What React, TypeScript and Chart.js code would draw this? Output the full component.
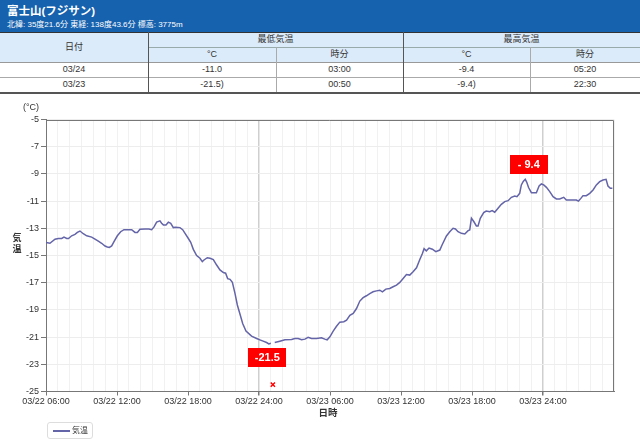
import React, { useEffect, useRef } from "react";
import { Chart, registerables } from "chart.js";
Chart.register(...registerables);

const FONT = '"Liberation Sans", "Noto Sans CJK JP", sans-serif';

// hours since 03/22 00:00
const times = [
  6.0, 6.33, 6.76, 7.04, 7.33, 7.52, 7.75, 7.9, 8.17, 8.45, 8.65, 8.87, 9.15, 9.44, 9.86, 10.14, 10.42, 10.7, 10.99, 11.18,
  11.35, 11.55, 11.77, 12.03, 12.31, 12.59, 12.96, 13.24, 13.52, 13.72, 13.94, 14.37, 14.7, 14.93, 15.13, 15.35, 15.63, 15.77, 15.92, 16.14,
  16.34, 16.54, 16.76, 16.96, 17.32, 17.55, 17.75, 18.03, 18.23, 18.45, 18.73, 19.01, 19.21, 19.35, 19.63, 19.86, 20.14, 20.42, 20.7, 20.99,
  21.18, 21.35, 21.55, 21.75, 21.97, 22.17, 22.39, 22.62, 22.9, 23.37, 23.8, 24.07, 24.35, 24.64, 24.83, 25.0, 25.17, 25.33, 25.76, 26.19,
  26.75, 27.03, 27.31, 27.6, 27.88, 28.15, 28.44, 28.86, 29.28, 29.56, 29.76, 29.99, 30.27, 30.55, 30.83, 31.17, 31.4, 31.68, 31.96, 32.24,
  32.52, 32.8, 33.08, 33.36, 33.64, 33.93, 34.21, 34.43, 34.72, 35.05, 35.33, 35.62, 35.9, 36.18, 36.46, 36.74, 37.02, 37.31, 37.59, 37.81,
  37.95, 38.14, 38.37, 38.65, 38.94, 39.28, 39.47, 39.84, 40.12, 40.4, 40.6, 40.82, 41.1, 41.39, 41.67, 41.81, 41.95, 42.15, 42.37, 42.51,
  42.7, 42.99, 43.2, 43.5, 43.7, 43.92, 44.2, 44.48, 44.77, 45.05, 45.33, 45.61, 45.8, 46.03, 46.17, 46.33, 46.5, 46.62, 46.78, 47.02,
  47.44, 47.67, 47.86, 48.06, 48.29, 48.57, 48.85, 49.13, 49.41, 49.75, 49.97, 50.4, 50.82, 51.0, 51.2, 51.38, 51.66, 51.95, 52.23, 52.51,
  52.79, 53.07, 53.33, 53.49, 53.69, 53.86,
];
const temps: (number | null)[] = [
  -14.05, -14.1, -13.8, -13.75, -13.75, -13.65, -13.75, -13.75, -13.55, -13.45, -13.3, -13.2, -13.4, -13.55, -13.65, -13.8, -13.95, -14.1, -14.3, -14.37,
  -14.4, -14.3, -13.95, -13.55, -13.25, -13.1, -13.1, -13.1, -13.3, -13.3, -13.07, -13.05, -13.05, -13.1, -12.9, -12.55, -12.45, -12.63, -12.75, -12.75,
  -12.55, -12.63, -12.95, -12.93, -12.95, -13.1, -13.37, -13.75, -14.03, -14.55, -15.0, -15.2, -15.45, -15.33, -15.16, -15.2, -15.3, -15.7, -16.06, -16.25,
  -16.3, -16.7, -16.75, -16.97, -17.78, -18.64, -19.3, -20.0, -20.55, -20.93, -21.1, -21.2, -21.3, -21.4, -21.5, -21.45, null, -21.4, -21.3, -21.2,
  -21.17, -21.1, -21.1, -21.2, -21.15, -21.02, -21.1, -21.1, -21.05, -21.15, -21.2, -20.98, -20.56, -20.2, -19.9, -19.87, -19.75, -19.4, -19.26, -18.9,
  -18.35, -18.1, -17.96, -17.8, -17.67, -17.6, -17.55, -17.67, -17.47, -17.42, -17.3, -17.18, -16.98, -16.69, -16.4, -16.44, -16.2, -15.9, -15.3, -14.85,
  -14.5, -14.66, -14.45, -14.54, -14.72, -14.6, -14.23, -13.56, -13.25, -13.0, -13.05, -13.25, -13.37, -13.42, -13.17, -13.12, -12.26, -12.5, -12.83, -12.83,
  -12.26, -11.85, -11.73, -11.78, -11.7, -11.82, -11.53, -11.24, -11.04, -10.97, -10.72, -10.62, -10.67, -10.43, -9.81, -9.55, -9.4, -9.6, -10.0, -10.38,
  -10.38, -9.89, -9.74, -9.81, -9.99, -10.3, -10.67, -10.84, -10.84, -10.72, -10.92, -10.92, -10.92, -11.0, -10.8, -10.6, -10.6, -10.43, -10.18, -9.81,
  -9.57, -9.45, -9.4, -9.89, -10.06, -10.06,
];

// missing-observation marker
const missingTimes = [25.17];
const missingMarkY = [-24.5];

// annotation labels (min, max)
const peakLabels = ["-21.5", "- 9.4"];

const xLabelHours = [6, 12, 18, 24, 30, 36, 42, 48];
const xLabels = ["03/22 06:00", "03/22 12:00", "03/22 18:00", "03/22 24:00", "03/23 06:00", "03/23 12:00", "03/23 18:00", "03/23 24:00"];
const dayBoundaryHours = [24, 48];

// table
const tableDates = ["03/24", "03/23"];
const tableMinTemps = ["-11.0", "-21.5)"];
const tableMinTimes = ["03:00", "00:50"];
const tableMaxTemps = ["-9.4", "-9.4)"];
const tableMaxTimes = ["05:20", "22:30"];

const LINE_COLOR = "#6464a8";

function Cell(props: { x: number; y: number; w: number; h: number; text: string; bg?: string; size?: number }) {
  const { x, y, w, h, text, bg, size } = props;
  return (
    <div
      style={{
        position: "absolute",
        left: x,
        top: y,
        width: w,
        height: h,
        background: bg || "transparent",
        color: "#333",
        fontSize: size || 9,
        lineHeight: h + "px",
        textAlign: "center",
        whiteSpace: "nowrap",
      }}
    >
      {text}
    </div>
  );
}

function HLine(props: { x: number; y: number; w: number; c: string; t?: number }) {
  return <div style={{ position: "absolute", left: props.x, top: props.y, width: props.w, height: props.t || 1, background: props.c }} />;
}
function VLine(props: { x: number; y: number; h: number; c: string }) {
  return <div style={{ position: "absolute", left: props.x, top: props.y, width: 1, height: props.h, background: props.c }} />;
}

export default function App() {
  const canvasRef = useRef<HTMLCanvasElement>(null);

  useEffect(() => {
    document.body.style.margin = "0";
    const canvas = canvasRef.current;
    if (!canvas) return;

    const overlay = {
      id: "overlay",
      afterDraw(chart: any) {
        const { ctx, chartArea: ca } = chart;
        const xs = chart.scales.x;
        const ys = chart.scales.y;
        ctx.save();
        // box border (top + right)
        ctx.strokeStyle = "#777";
        ctx.lineWidth = 1;
        ctx.beginPath();
        const top = Math.round(ca.top) + 0.5;
        const right = Math.round(ca.right) - 0.5;
        ctx.moveTo(ca.left, top);
        ctx.lineTo(right, top);
        ctx.lineTo(right, ca.bottom);
        ctx.stroke();

        // axis titles
        ctx.fillStyle = "#333";
        ctx.textAlign = "center";
        ctx.textBaseline = "middle";
        ctx.font = `9px ${FONT}`;
        ctx.fillText("(°C)", 31, ca.top - 11.5);
        ctx.font = `bold 9px ${FONT}`;
        ctx.fillText("気", 17, 144);
        ctx.fillText("温", 17, 155);
        ctx.font = `bold 9.5px ${FONT}`;
        ctx.fillText("日時", (ca.left + ca.right) / 2 - 2, 318);

        // min / max labels
        let iMin = -1;
        let iMax = -1;
        temps.forEach((v, i) => {
          if (v === null) return;
          if (iMin < 0 || v < (temps[iMin] as number)) iMin = i;
          if (iMax < 0 || v > (temps[iMax] as number)) iMax = i;
        });
        const drawBox = (cx: number, cy: number, text: string) => {
          const w = 38;
          const h = 19;
          ctx.fillStyle = "#ff0000";
          ctx.fillRect(Math.round(cx - w / 2), Math.round(cy - h / 2), w, h);
          ctx.fillStyle = "#ffffff";
          ctx.font = `bold 11px ${FONT}`;
          ctx.textAlign = "center";
          ctx.textBaseline = "middle";
          ctx.fillText(text, cx, cy + 0.5);
        };
        const minX = xs.getPixelForValue(times[iMin]);
        const minY = ys.getPixelForValue(temps[iMin]);
        drawBox(minX - 1.5, minY + 4 + 9.5, peakLabels[0]);
        const maxX = xs.getPixelForValue(times[iMax]);
        const maxY = ys.getPixelForValue(temps[iMax]);
        drawBox(maxX + 3.5, maxY - 5 - 9.5, peakLabels[1]);
        ctx.restore();
      },
    };

    const chart = new Chart(canvas, {
      type: "line",
      data: {
        datasets: [
          {
            label: "気温",
            data: times.map((t, i) => ({ x: t, y: temps[i] })) as any,
            borderColor: LINE_COLOR,
            backgroundColor: LINE_COLOR,
            borderWidth: 1.5,
            pointRadius: 0,
            pointHoverRadius: 0,
            spanGaps: false,
            tension: 0,
            fill: false,
          },
          {
            label: "欠測",
            data: missingTimes.map((t, i) => ({ x: t, y: missingMarkY[i] })),
            showLine: false,
            pointStyle: "crossRot",
            pointRadius: 3,
            pointBorderWidth: 1.5,
            borderColor: "#ff0000",
            backgroundColor: "#ff0000",
            pointBorderColor: "#ff0000",
          },
        ],
      },
      options: {
        animation: false,
        responsive: false,
        events: [],
        layout: { padding: { top: 24.5, right: 26, left: 0, bottom: 0 } },
        plugins: { legend: { display: false }, tooltip: { enabled: false }, title: { display: false } },
        scales: {
          x: {
            type: "linear",
            min: 6,
            max: 54,
            afterFit: (s: any) => {
              s.height = 53.5;
            },
            border: { color: "#777", width: 1 },
            grid: {
              color: (c: any) => (dayBoundaryHours.includes(c.tick?.value) ? "#cfcfcf" : "#f1f1f1"),
              lineWidth: (c: any) => (dayBoundaryHours.includes(c.tick?.value) ? 1.5 : 1),
              tickColor: (c: any) => (xLabelHours.includes(c.tick?.value) ? "#777" : "rgba(0,0,0,0)"),
              tickLength: 4,
            },
            ticks: {
              stepSize: 1,
              autoSkip: false,
              maxRotation: 0,
              minRotation: 0,
              padding: 1,
              color: "#333",
              font: { size: 9, family: FONT },
              callback: (v: any) => {
                const idx = xLabelHours.indexOf(Number(v));
                return idx >= 0 ? xLabels[idx] : "";
              },
            },
          },
          y: {
            min: -25,
            max: -5,
            afterFit: (s: any) => {
              s.width = 46;
            },
            border: { color: "#777", width: 1 },
            grid: { color: "#ededed", tickColor: "#777", tickLength: 5 },
            ticks: {
              stepSize: 2,
              padding: 2,
              color: "#333",
              font: { size: 9, family: FONT },
              callback: (v: any) => String(v),
            },
          },
        },
      },
      plugins: [overlay],
    });
    return () => chart.destroy();
  }, []);

  const headerBg = "#dcebfa";
  return (
    <div style={{ position: "relative", width: 640, height: 445, background: "#fff", fontFamily: FONT, overflow: "hidden" }}>
      <div style={{ position: "absolute", left: 0, top: 0, width: 640, height: 32, background: "#1662ae" }}>
        <div style={{ position: "absolute", left: 7, top: 4, color: "#fff", fontWeight: "bold", fontSize: 11.5, lineHeight: "14px", whiteSpace: "nowrap" }}>
          富士山(フジサン)
        </div>
        <div style={{ position: "absolute", left: 7, top: 19.5, color: "#fff", fontSize: 8, lineHeight: "10px", whiteSpace: "nowrap" }}>
          北緯: 35度21.6分 東経: 138度43.6分 標高: 3775m
        </div>
      </div>
      {/* table header */}
      <Cell x={0} y={32} w={148} h={30} text="日付" bg={headerBg} />
      <Cell x={148} y={32} w={255} h={15} text="最低気温" bg={headerBg} />
      <Cell x={403} y={32} w={237} h={15} text="最高気温" bg={headerBg} />
      <Cell x={148} y={47} w={128} h={15} text="°C" bg={headerBg} />
      <Cell x={276} y={47} w={127} h={15} text="時分" bg={headerBg} />
      <Cell x={403} y={47} w={127} h={15} text="°C" bg={headerBg} />
      <Cell x={530} y={47} w={110} h={15} text="時分" bg={headerBg} />
      {tableDates.map((d, i) => (
        <React.Fragment key={d}>
          <Cell x={0} y={62 + i * 15} w={148} h={15} text={d} />
          <Cell x={148} y={62 + i * 15} w={128} h={15} text={tableMinTemps[i]} />
          <Cell x={276} y={62 + i * 15} w={127} h={15} text={tableMinTimes[i]} />
          <Cell x={403} y={62 + i * 15} w={127} h={15} text={tableMaxTemps[i]} />
          <Cell x={530} y={62 + i * 15} w={110} h={15} text={tableMaxTimes[i]} />
        </React.Fragment>
      ))}
      <HLine x={0} y={32} w={640} c="#333" />
      <HLine x={148} y={47} w={492} c="#9aa" />
      <HLine x={0} y={62} w={640} c="#999" />
      <HLine x={0} y={77} w={640} c="#aaa" />
      <HLine x={0} y={92} w={640} c="#555" t={2} />
      <VLine x={148} y={32} h={60} c="#555" />
      <VLine x={403} y={32} h={60} c="#555" />
      <VLine x={276} y={47} h={45} c="#aaa" />
      <VLine x={530} y={47} h={45} c="#aaa" />

      <canvas ref={canvasRef} width={640} height={350} style={{ position: "absolute", left: 0, top: 95, display: "block" }} />

      {/* legend */}
      <div
        style={{
          position: "absolute",
          left: 47,
          top: 422,
          width: 44,
          height: 15,
          border: "1px solid #ddd",
          borderRadius: 3,
          background: "#fff",
        }}
      >
        <div style={{ position: "absolute", left: 5, top: 7, width: 17, height: 1.5, background: LINE_COLOR }} />
        <div style={{ position: "absolute", left: 24, top: 0, fontSize: 8, lineHeight: "15px", color: "#333", whiteSpace: "nowrap" }}>気温</div>
      </div>
    </div>
  );
}
